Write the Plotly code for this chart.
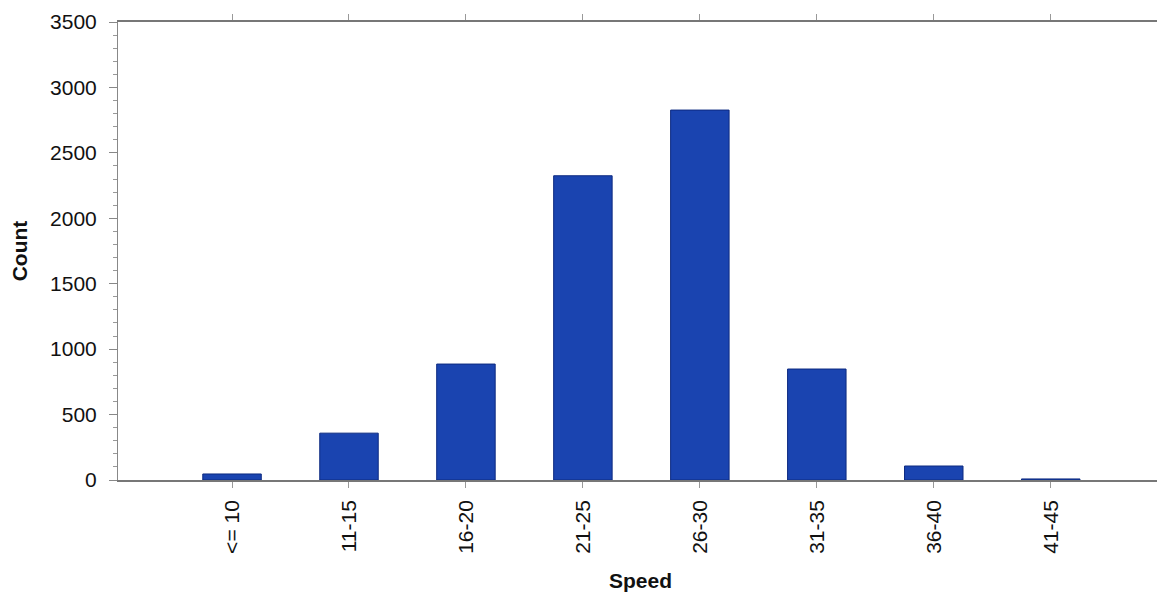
import plotly.graph_objects as go

categories = ["<= 10", "11-15", "16-20", "21-25", "26-30", "31-35", "36-40", "41-45"]
counts = [46, 358, 886, 2325, 2827, 848, 107, 8]
y_ticks = [0, 500, 1000, 1500, 2000, 2500, 3000, 3500]

fig = go.Figure()
fig.add_trace(go.Bar(
    x=list(range(len(categories))),
    y=counts,
    width=0.5,
    marker=dict(color="#1a44b0", line=dict(color="#0d2a80", width=1)),
))

font = "Liberation Sans, Arial, sans-serif"
fig.update_layout(
    width=1157, height=586,
    margin=dict(l=110, r=2, t=14, b=114, autoexpand=False),
    paper_bgcolor="white", plot_bgcolor="white",
    showlegend=False,
    font=dict(family=font, size=21, color="#111"),
    bargap=0.5,
)
fig.update_xaxes(
    automargin=False,
    tickmode="array",
    tickvals=list(range(len(categories))),
    ticktext=categories,
    tickangle=-90,
    range=[-0.975, 7.96],
    showline=True, linecolor="#777", linewidth=1.5,
    mirror="ticks",
    ticks="outside", ticklen=6, tickcolor="#999",
    ticklabelstandoff=4,
    showgrid=False, zeroline=False,
    tickfont=dict(family=font, size=21),
    title=dict(text="<b>Speed</b>", font=dict(family=font, size=21), standoff=20),
)
fig.update_yaxes(
    automargin=False,
    range=[0, 3500],
    tickmode="array",
    tickvals=y_ticks,
    showline=True, linecolor="#888", linewidth=1,
    mirror="ticks",
    ticks="outside", ticklen=8, tickcolor="#888",
    ticklabelstandoff=8,
    minor=dict(dtick=100, ticks="outside", ticklen=4, tickcolor="#999"),
    showgrid=False, zeroline=False,
    tickfont=dict(family=font, size=21),
    title=dict(text="<b>Count</b>", font=dict(family=font, size=21), standoff=24),
)

fig.write_html("out.html")
